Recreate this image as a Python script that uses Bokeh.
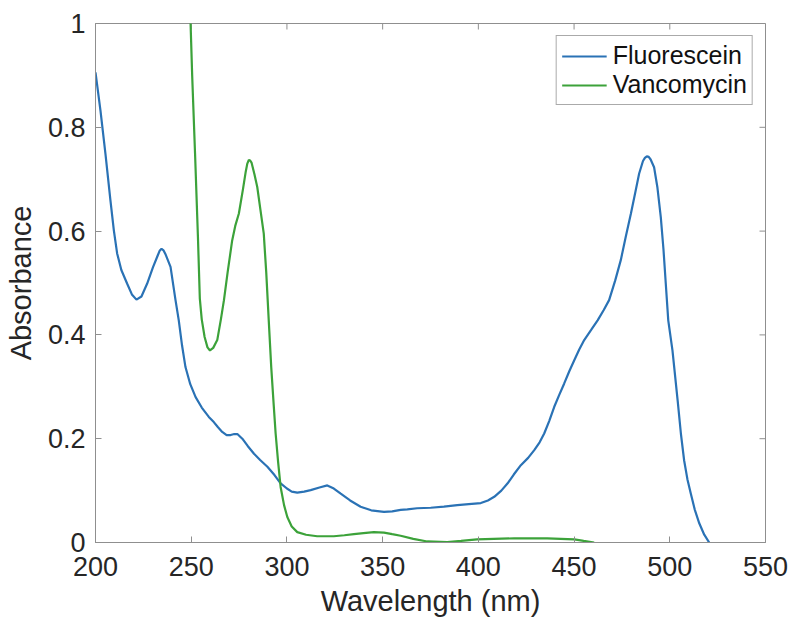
from bokeh.plotting import figure
from bokeh.models import FixedTicker, CustomJSTickFormatter, Range1d, Legend, LegendItem
from bokeh.embed import file_html
from bokeh.resources import INLINE

# ---------------- data ----------------
fluo_wl = [200, 202.6, 205.2, 207.8, 209.6, 211.3, 213.5, 216.5, 219, 221.4, 224, 227, 230, 232.5,
           233.5, 234.5, 235.5, 236.5, 239.2, 241.8, 243.5, 245.2, 247, 249.5, 252.3, 255.5, 259.2,
           261.8, 264, 266.2, 268.5, 270.6, 272.5, 274.1, 276.7, 279.5, 282.8, 286, 289.8, 293.5,
           296.7, 300, 302.5, 305.4, 309, 312.4, 317, 321.1, 324.5, 328.1, 333, 338.5, 344, 350.7,
           355, 359.4, 362.9, 368, 375.1, 382, 389, 395, 401.3, 405, 408.3, 412, 415.3, 418.5, 422.2,
           426, 429.2, 432, 434.4, 437, 439.6, 442.2, 444.8, 447.5, 450.1, 452.7, 455.3, 459, 462.3,
           465.5, 468.3, 471.5, 474.4, 477, 479.7, 482, 484, 486, 487, 488, 489, 490, 491.8, 493.5,
           495.3, 496.7, 497.9, 499.2, 501.4, 504.1, 505.8, 507.5, 509.2, 511, 513, 515.4, 518, 520.6]
fluo_abs = [0.906, 0.832, 0.749, 0.659, 0.601, 0.557, 0.525, 0.499, 0.478, 0.468, 0.474, 0.499, 0.530,
            0.553, 0.562, 0.566, 0.563, 0.556, 0.531, 0.467, 0.428, 0.380, 0.338, 0.305, 0.280, 0.260,
            0.242, 0.232, 0.222, 0.213, 0.207, 0.207, 0.209, 0.209, 0.200, 0.186, 0.171, 0.159, 0.146,
            0.130, 0.114, 0.104, 0.098, 0.096, 0.098, 0.101, 0.106, 0.110, 0.104, 0.094, 0.081, 0.069,
            0.062, 0.059, 0.060, 0.063, 0.064, 0.066, 0.067, 0.069, 0.072, 0.074, 0.076, 0.081, 0.088,
            0.100, 0.114, 0.131, 0.149, 0.163, 0.178, 0.193, 0.210, 0.234, 0.261, 0.284, 0.306, 0.330,
            0.351, 0.372, 0.390, 0.410, 0.428, 0.448, 0.467, 0.505, 0.544, 0.589, 0.634, 0.675, 0.711,
            0.735, 0.741, 0.744, 0.743, 0.738, 0.723, 0.685, 0.627, 0.565, 0.499, 0.428, 0.370, 0.274,
            0.210, 0.158, 0.122, 0.094, 0.064, 0.037, 0.015, 0.0]

vanco_wl = [249.0, 250.5, 252, 253.5, 254.5, 255.5, 257, 258.5, 259.8, 261.5, 263.6, 265.5, 267.1, 269,
            271.4, 273, 274.9, 277, 278.5, 279.3, 280.1, 280.8, 281.5, 283, 284.5, 286.2, 287.9, 289.2,
            290.5, 291.8, 293, 294.1, 295.4, 296.7, 298.5, 300.2, 302.5, 305.4, 310, 315.8, 324.5, 330,
            335, 340, 345.4, 350.7, 355, 359.4, 366, 373.3, 383.7, 391, 399.3, 408, 418.7, 427, 436,
            443, 450.1, 455, 460.5]
vanco_abs = [1.08, 0.90, 0.75, 0.59, 0.47, 0.43, 0.396, 0.376, 0.370, 0.375, 0.390, 0.430, 0.467, 0.520,
             0.582, 0.610, 0.634, 0.680, 0.715, 0.730, 0.737, 0.736, 0.732, 0.710, 0.685, 0.640, 0.595,
             0.520, 0.428, 0.338, 0.270, 0.210, 0.155, 0.107, 0.072, 0.049, 0.031, 0.020, 0.015, 0.012,
             0.012, 0.014, 0.016, 0.018, 0.020, 0.019, 0.016, 0.013, 0.007, 0.002, 0.001, 0.003, 0.006,
             0.007, 0.008, 0.008, 0.008, 0.007, 0.006, 0.003, 0.0]

x_ticks = [200, 250, 300, 350, 400, 450, 500, 550]
y_ticks = [0, 0.2, 0.4, 0.6, 0.8, 1.0]
series_names = ["Fluorescein", "Vancomycin"]
series_colors = ["#2a72b5", "#3ca23a"]

FONT = "Liberation Sans"
AX_GRAY = "#8f8f8f"
TXT = "#262626"

FW, FH = 670, 519
X0, X1, Y0, Y1 = 200, 550, 0, 1

p = figure(frame_width=FW, frame_height=FH, output_backend="svg", toolbar_location=None,
           x_range=Range1d(X0, X1), y_range=Range1d(Y0, Y1),
           min_border_left=95, min_border_right=26, min_border_top=23, min_border_bottom=77,
           background_fill_color="white", border_fill_color="white")
p.grid.visible = False
p.outline_line_color = AX_GRAY
p.outline_line_width = 1

yfmt = CustomJSTickFormatter(code="""
if (Math.abs(tick) < 1e-9) return "0";
if (Math.abs(tick - 1) < 1e-9) return "1";
return tick.toFixed(1);
""")

for ax in p.xaxis:
    ax.ticker = FixedTicker(ticks=x_ticks)
    ax.axis_label = "Wavelength (nm)"
    ax.major_label_standoff = 14
    ax.axis_label_standoff = 6
for ax in p.yaxis:
    ax.ticker = FixedTicker(ticks=y_ticks)
    ax.formatter = yfmt
    ax.axis_label = "Absorbance"
    ax.major_label_standoff = 10
    ax.axis_label_standoff = 8

for ax in p.xaxis + p.yaxis:
    ax.axis_line_color = AX_GRAY
    ax.major_tick_line_color = AX_GRAY
    ax.major_tick_in = 6
    ax.major_tick_out = 0
    ax.minor_tick_line_color = None
    ax.major_label_text_font = FONT
    ax.major_label_text_font_size = "27px"
    ax.major_label_text_color = TXT
    ax.axis_label_text_font = FONT
    ax.axis_label_text_font_size = "29px"
    ax.axis_label_text_font_style = "normal"
    ax.axis_label_text_color = TXT

# mirrored tick marks on the top and right edges of the box (6 px long)
dy = 6.0 / FH * (Y1 - Y0)
dx = 6.0 / FW * (X1 - X0)
p.segment(x0=x_ticks, x1=x_ticks, y0=[Y1] * len(x_ticks), y1=[Y1 - dy] * len(x_ticks),
          line_color=AX_GRAY, line_width=1)
p.segment(x0=[X1] * len(y_ticks), x1=[X1 - dx] * len(y_ticks), y0=y_ticks, y1=y_ticks,
          line_color=AX_GRAY, line_width=1)

r1 = p.line(fluo_wl, fluo_abs, line_color=series_colors[0], line_width=2.2)
r2 = p.line(vanco_wl, vanco_abs, line_color=series_colors[1], line_width=2.2)

legend = Legend(items=[LegendItem(label=series_names[0], renderers=[r1]),
                       LegendItem(label=series_names[1], renderers=[r2])],
                location="top_right", margin=12, padding=5, spacing=0,
                glyph_width=45, label_standoff=6,
                label_text_font=FONT, label_text_font_size="25px", label_text_color="#111111",
                border_line_color="#555555", border_line_width=1,
                background_fill_color="white", background_fill_alpha=1)
p.add_layout(legend)

open("out.html", "w").write(file_html(p, INLINE))
